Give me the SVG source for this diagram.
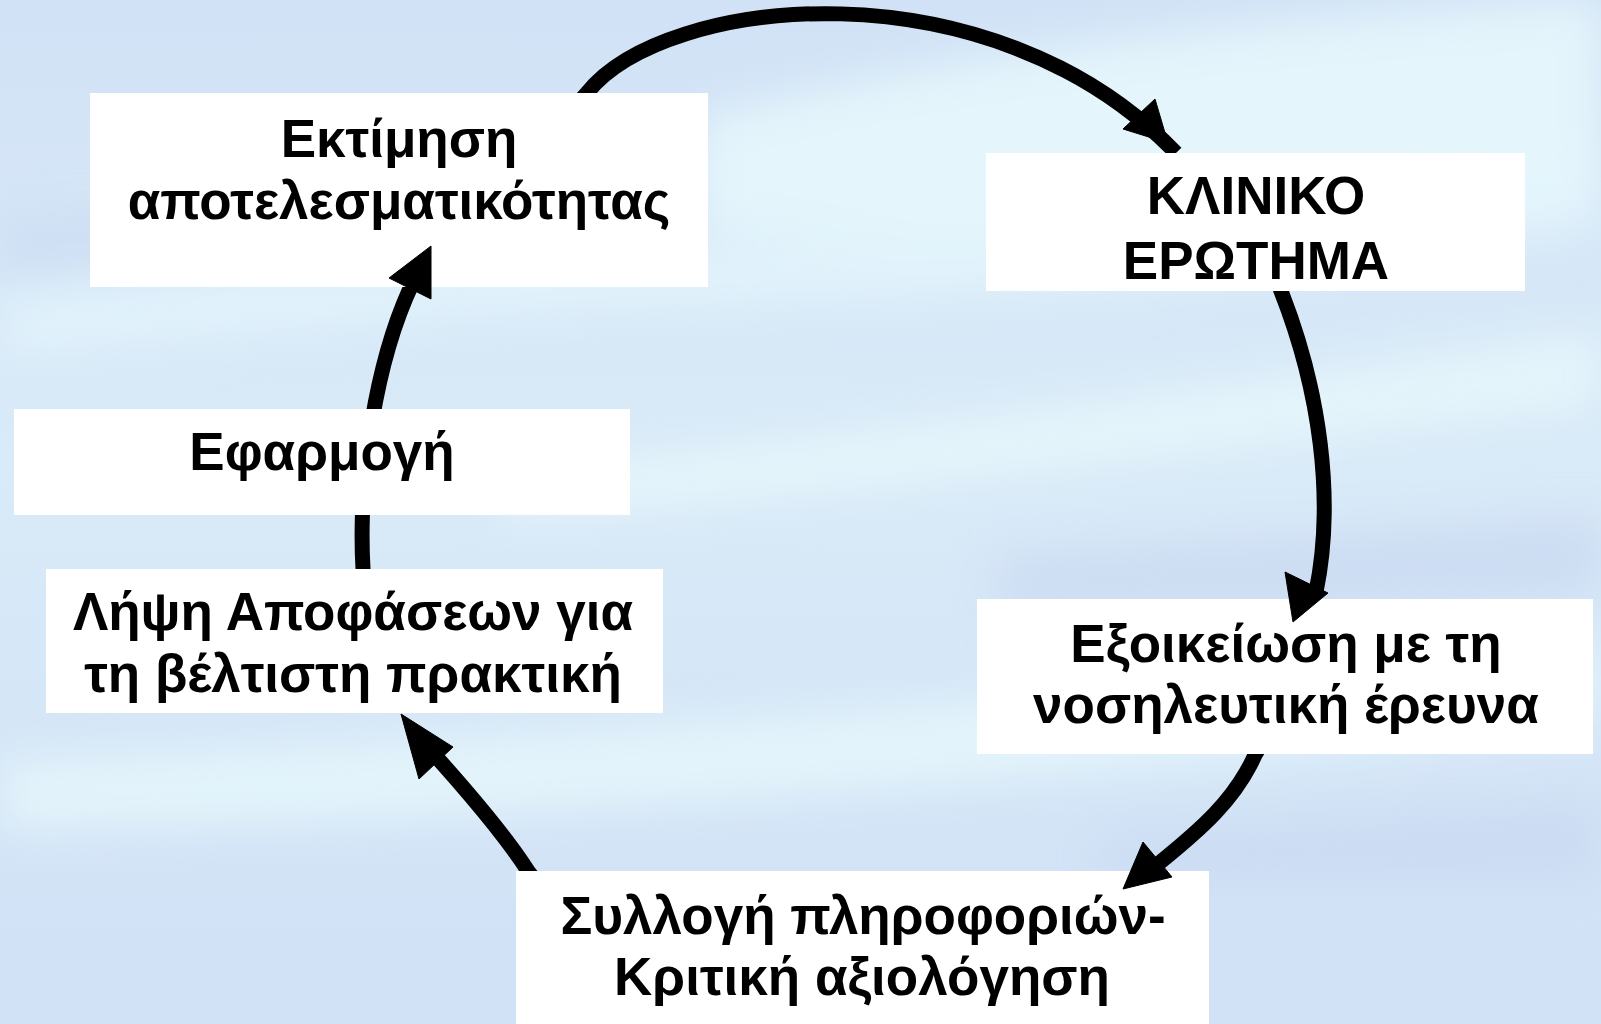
<svg xmlns="http://www.w3.org/2000/svg" width="1601" height="1024" viewBox="0 0 1601 1024">
<defs>
<style>
.box{fill:#ffffff}
.t{font-family:"Liberation Sans",Arial,"Noto Sans",sans-serif;font-weight:bold;font-size:53px;text-anchor:middle;fill:#000}
.c{fill:none;stroke:#000;stroke-width:15;stroke-linecap:butt;stroke-linejoin:round}
.h{fill:#000;stroke:#000;stroke-width:1;stroke-linejoin:miter}
</style>
<linearGradient id="bg" x1="0" y1="0" x2="0" y2="1">
<stop offset="0" stop-color="#d2e2f6"/>
<stop offset="0.45" stop-color="#d9eaf8"/>
<stop offset="1" stop-color="#d1e1f6"/>
</linearGradient>
<filter id="blur" x="-20%" y="-50%" width="140%" height="200%">
<feGaussianBlur stdDeviation="22"/>
</filter>
<clipPath id="outside">
<path clip-rule="evenodd" d="M0,0H1601V1024H0Z M90,93h618v194h-618Z M986,153h539v138h-539Z M14,409h616v106h-616Z M46,569h617v144h-617Z M977,599h616v155h-616Z M516,871h693v153h-693Z"/>
</clipPath>
</defs>
<g id="background">
<rect x="0" y="0" width="1601" height="1024" fill="url(#bg)"/>
<g filter="url(#blur)">
<path d="M700,120 C1000,40 1300,20 1601,0 L1601,200 C1300,230 1000,260 700,230 Z" fill="#e6f7fc" opacity="0.9"/>
<path d="M0,300 C300,250 600,250 900,240 C1200,230 1400,200 1601,160 L1601,230 C1300,280 1000,300 700,310 C400,320 200,340 0,360 Z" fill="#e4f5fc" opacity="0.8"/>
<path d="M500,470 C800,440 1200,390 1601,330 L1601,410 C1200,450 850,500 500,520 Z" fill="#e6f7fc" opacity="0.85"/>
<path d="M0,760 C400,740 900,720 1601,640 L1601,720 C1000,790 500,820 0,830 Z" fill="#e5f7fc" opacity="0.85"/>
<path d="M1000,560 C1200,545 1400,535 1601,520 L1601,590 C1400,600 1200,610 1000,610 Z" fill="#c9d8f0" opacity="0.8"/>
<path d="M1100,840 C1300,820 1450,810 1601,800 L1601,880 C1450,880 1300,880 1100,880 Z" fill="#c9d9f1" opacity="0.8"/>
<path d="M0,220 C150,215 300,215 450,220 L450,260 C300,262 150,265 0,270 Z" fill="#c8d8f1" opacity="0.6"/>
</g>
</g>
<g id="node-ektimisi">
<rect class="box" x="90" y="93" width="618" height="194"/>
<text class="t" x="399" y="157">Εκτίμηση</text>
<text class="t" x="399" y="219">αποτελεσματικότητας</text>
</g>
<g id="node-kliniko">
<rect class="box" x="986" y="153" width="539" height="138"/>
<text class="t" x="1256" y="214">ΚΛΙΝΙΚΟ</text>
<text class="t" x="1256" y="279">ΕΡΩΤΗΜΑ</text>
</g>
<g id="node-exoikeiosi">
<rect class="box" x="977" y="599" width="616" height="155"/>
<text class="t" x="1286" y="662">Εξοικείωση με τη</text>
<text class="t" x="1286" y="723">νοσηλευτική έρευνα</text>
</g>
<g id="node-syllogi">
<rect class="box" x="516" y="871" width="693" height="153"/>
<text class="t" x="863" y="934">Συλλογή πληροφοριών-</text>
<text class="t" x="862" y="995">Κριτική αξιολόγηση</text>
</g>
<g id="node-lipsi">
<rect class="box" x="46" y="569" width="617" height="144"/>
<text class="t" x="353" y="630">Λήψη Αποφάσεων για</text>
<text class="t" x="353" y="692">τη βέλτιστη πρακτική</text>
</g>
<g id="connectors">
<g clip-path="url(#outside)">
<path class="c" d="M578,103 L587,93 C665,-5 990,-40 1176,153"/>
<path class="c" d="M1278,283 L1281,291 C1320,390 1335,500 1316,592"/>
<path class="c" d="M1261,745 L1255,755 C1235,800 1200,830 1158,864"/>
<path class="c" d="M535,880 L528,871 C505,835 468,792 432,752"/>
<path class="c" d="M363,580 L363,569 C358,480 375,360 414,280"/>
</g>
<polygon class="h" points="1123,129 1155,99 1168,143"/>
<polygon class="h" points="1285,572 1328,593 1293,622"/>
<polygon class="h" points="1143,842 1172,877 1123,889"/>
<polygon class="h" points="419,779 453,747 401,714"/>
<polygon class="h" points="389,278 431,299 431,246"/>
</g>
<g id="node-efarmogi">
<rect class="box" x="14" y="409" width="616" height="106"/>
<text class="t" x="322" y="470">Εφαρμογή</text>
</g>
</svg>
